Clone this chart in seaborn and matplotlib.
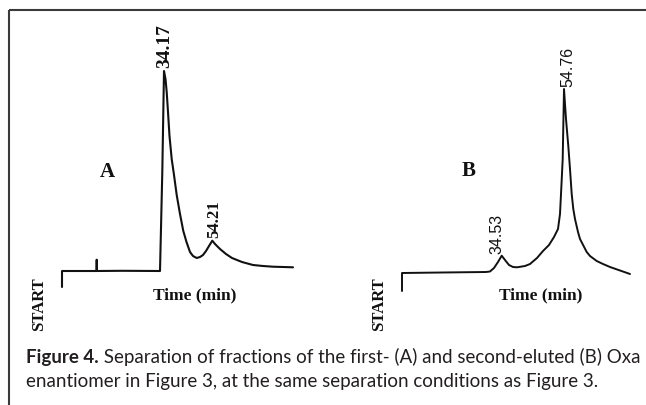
import matplotlib
matplotlib.use("Agg")
import matplotlib.pyplot as plt
from matplotlib import font_manager
import seaborn as sns
import pandas as pd

# ---------------- data (chart distance from START, detector signal) ----------------
a_pos = [0, 0, 20, 34.5, 34.7, 34.9, 60, 98, 100.3, 102, 103.5, 104.7, 106, 107.5, 109.7,
         112, 114.7, 118, 121.3, 124.5, 128, 131, 134.7, 138, 141, 144, 147, 150.3, 153,
         158, 164, 170, 180, 191, 201, 211, 221, 231]
a_signal = [-16, 0, 0, 0, 11.3, 0, 0.2, 0, 99, 200, 192, 179, 159, 135, 112,
            96, 76, 57, 40, 29, 19, 15, 13, 14, 16, 20, 25, 30.3, 27,
            22, 17, 13, 9, 6, 5, 4.3, 4, 3.7]
a_peak_labels = ["34.17", "54.21"]
a_peak_index = [9, 27]

b_pos = [0, 0, 40, 84, 88, 92, 96, 99.7, 103, 107, 111, 115, 123, 128, 135, 141, 147,
         152, 156, 158, 159.5, 160.7, 162, 164, 166.3, 168, 169.7, 171.3, 173, 176, 178,
         184.7, 188, 194.7, 201, 208, 218, 228]
b_signal = [-18, 0, 0.5, 1, 1.5, 5, 11, 17.3, 13, 8, 6, 5.7, 7, 9, 15, 22, 28,
            36, 44, 59, 89, 114, 184, 154, 127, 104, 79, 64, 54, 41, 34,
            21, 17, 12, 9, 6, 2.5, -1]
b_peak_labels = ["34.53", "54.76"]
b_peak_index = [7, 22]

panel_letters = ["A", "B"]
x_label = "Time (min)"
start_label = "START"
caption_bold = "Figure 4."
caption_line1 = " Separation of fractions of the first- (A) and second-eluted (B) Oxa"
caption_line2 = "enantiomer in Figure 3, at the same separation conditions as Figure 3."

# ---------------- style ----------------
sns.set_theme(style="white")
names = {f.name for f in font_manager.fontManager.ttflist}
SERIF = "Liberation Serif" if "Liberation Serif" in names else "DejaVu Serif"
SANS = "Liberation Sans" if "Liberation Sans" in names else "DejaVu Sans"
CAP = "Lato" if "Lato" in names else SANS
plt.rcParams["font.family"] = [SANS, "DejaVu Sans"]

W, H = 646, 406
fig = plt.figure(figsize=(W / 100, H / 100), dpi=100)
fig.patch.set_facecolor("white")

bg = fig.add_axes([0, 0, 1, 1])
bg.set_xlim(0, W)
bg.set_ylim(H, 0)
bg.axis("off")

border = "#3a3a3a"
bg.plot([8.5, W], [10.5, 10.5], color=border, lw=1.5, solid_capstyle="butt")
bg.plot([8.5, 8.5], [10.5, H], color=border, lw=1.5, solid_capstyle="butt")


def panel_axes(left, top, right, bottom, ox, oy):
    ax = fig.add_axes([left / W, 1 - bottom / H, (right - left) / W, (bottom - top) / H])
    ax.set_xlim(left - ox, right - ox)
    ax.set_ylim(oy - bottom, oy - top)
    ax.axis("off")
    return ax


ink = "#111111"
axA = panel_axes(20, 15, 320, 340, 62, 272)
axB = panel_axes(340, 15, 640, 340, 402, 274)

dfA = pd.DataFrame({"pos": a_pos, "signal": a_signal})
dfB = pd.DataFrame({"pos": b_pos, "signal": b_signal})
sns.lineplot(data=dfA, x="pos", y="signal", ax=axA, sort=False, estimator=None,
             color=ink, lw=1.5)
sns.lineplot(data=dfB, x="pos", y="signal", ax=axB, sort=False, estimator=None,
             color=ink, lw=1.4)
for ax in (axA, axB):
    ax.axis("off")
    if ax.get_legend():
        ax.get_legend().remove()

# peak labels
a_sizes = [14, 12]
a_dx = [1, 2]
for lab, idx, fs, dx in zip(a_peak_labels, a_peak_index, a_sizes, a_dx):
    axA.text(a_pos[idx] + dx, a_signal[idx] + 4, lab, rotation=90, ha="center",
             va="bottom", fontsize=fs, fontweight="bold", family=SERIF, color=ink)
b_dx = [-5, 4]
for lab, idx, dx in zip(b_peak_labels, b_peak_index, b_dx):
    axB.text(b_pos[idx] + dx, b_signal[idx] + 3, lab, rotation=90, ha="center",
             va="bottom", fontsize=11.5, family=SANS, color=ink)

# panel annotations
for letter, (x, y) in zip(panel_letters, [(107, 172), (469, 171)]):
    bg.text(x, y, letter, ha="center", va="center", fontsize=15, fontweight="bold",
            family=SERIF, color=ink)
for x in (195, 541):
    bg.text(x, 295, x_label, ha="center", va="center", fontsize=12.5, fontweight="bold",
            family=SERIF, color=ink)
for x in (39, 379):
    bg.text(x, 304, start_label, ha="center", va="center", rotation=90, fontsize=12,
            fontweight="bold", family=SERIF, color=ink)

# caption: fit first line to the reference width
cap_color = "#231f20"
renderer = fig.canvas.get_renderer()
x0, target = 26, 610
fs0 = 12
p1 = bg.text(0, 0, caption_bold, fontsize=fs0, fontweight="bold", family=CAP)
p2 = bg.text(0, 0, caption_line1, fontsize=fs0, family=CAP)
wtot = p1.get_window_extent(renderer).width + p2.get_window_extent(renderer).width
p1.remove()
p2.remove()
fs = fs0 * target / wtot

t1 = bg.text(x0, 363, caption_bold, ha="left", va="baseline", fontsize=fs,
             fontweight="bold", family=CAP, color=cap_color)
bb = t1.get_window_extent(renderer)
bg.text(x0 + bb.width, 363, caption_line1, ha="left", va="baseline", fontsize=fs,
        family=CAP, color=cap_color)
bg.text(x0, 387, caption_line2, ha="left", va="baseline", fontsize=fs,
        family=CAP, color=cap_color)

fig.savefig("out.png", dpi=100, facecolor="white")
